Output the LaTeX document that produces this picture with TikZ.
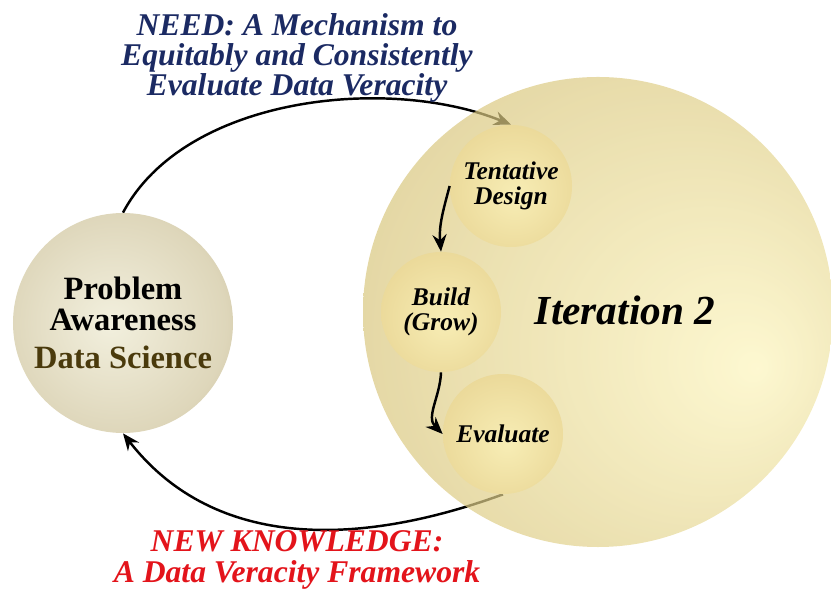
\documentclass[tikz,border=0pt]{standalone}
\usepackage{fontspec}
\setmainfont{Liberation Serif}
\usetikzlibrary{arrows.meta}
\pgfdeclarelayer{background}
\pgfsetlayers{background,main}

\definecolor{needblue}{HTML}{1B2A63}
\definecolor{newred}{HTML}{E3141B}
\definecolor{dsbrown}{HTML}{4A3A0C}

% shadings of the balls
\pgfdeclareradialshading{iterglow}{\pgfpoint{17bp}{-6bp}}{rgb(0bp)=(0.99,0.96,0.74); rgb(30bp)=(0.86,0.79,0.51); rgb(50bp)=(0.74,0.66,0.34)}
\pgfdeclareradialshading{stepglow}{\pgfpoint{2bp}{-4bp}}{rgb(0bp)=(0.97,0.93,0.71); rgb(28bp)=(0.92,0.85,0.60); rgb(50bp)=(0.78,0.68,0.42)}
\pgfdeclareradialshading{paglow}{\pgfpoint{-3bp}{0bp}}{rgb(0bp)=(0.95,0.94,0.87); rgb(25bp)=(0.87,0.84,0.73); rgb(43bp)=(0.71,0.66,0.50); rgb(46bp)=(0.66,0.61,0.46); rgb(50bp)=(1,1,1)}

\begin{document}
\begin{tikzpicture}[x=0.2mm,y=0.2mm,
  ball/.style={circle, inner sep=0pt, align=center, minimum size=#1},
  stepball/.style={ball=24mm, shading=stepglow, font=\fontsize{14.5}{14.5}\selectfont\bfseries\itshape},
  flow/.style={line width=1.4pt, -{Stealth[length=3.4mm,width=2.8mm]}},
  headline/.style={align=center, font=\fontsize{18}{17.2}\selectfont\bfseries\itshape}]
\useasboundingbox (0,0) rectangle (831,591);

\node[ball=44mm, shading=paglow, font=\fontsize{18.5}{17.5}\selectfont\bfseries] (pa) at (123,268)
  {Problem\\Awareness\\[4pt]{\fontsize{18.5}{18}\selectfont\color{dsbrown}Data Science}};
\node[ball=94mm, shading=iterglow, fill opacity=0.7] (iter) at (598,279) {};
\node[font=\fontsize{23.5}{24}\selectfont\bfseries\itshape] (it2) at (625,281) {Iteration 2};

\node[stepball, minimum size=24.4mm] (td) at (511,405) {Tentative\\Design};
\node[stepball] (bg) at (441,279) {Build\\(Grow)};
\node[stepball] (ev) at (503,157) {Evaluate};

\node[headline, text=needblue] (need) at (297,533)
  {NEED: A Mechanism to\\Equitably and Consistently\\Evaluate Data Veracity};
\node[headline, text=newred] (newk) at (297,31)
  {NEW KNOWLEDGE:\\A Data Veracity Framework};

\draw[flow] (td.west) to[out=-105,in=95] (bg.north);
\draw[flow] (bg.south) to[out=-92,in=135] (ev.west);

\begin{pgfonlayer}{background}
\draw[flow] (pa.north) to[out=62,in=158,looseness=0.85] (td.north);
\draw[flow] (ev.south) to[out=200,in=-52] (pa.south);
\end{pgfonlayer}
\end{tikzpicture}
\end{document}
